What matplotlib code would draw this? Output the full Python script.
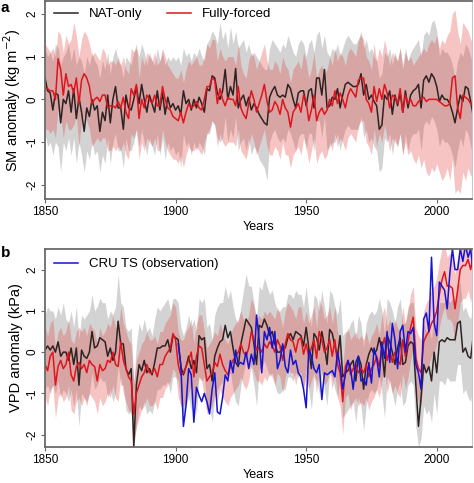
import numpy as np
import matplotlib
matplotlib.use('Agg')
import matplotlib.pyplot as plt

plt.rcParams['font.family'] = ['Liberation Sans', 'DejaVu Sans']
plt.rcParams['axes.unicode_minus'] = False

YEARS = np.arange(1850, 2015)
CRU_YEARS = np.arange(1901, 2015)

# ---- panel a: soil moisture anomaly (kg m-2) ----
sm_nat = [
    0.5, 0.2, 0.15, -0.25, 0.15, 0.1, -0.55, 0.0, -0.1, 0.2,
    -0.3, 0.25, -0.45, 0.05, -0.3, -0.75, -0.2, -0.4, 0.0, -0.25,
    -0.15, -0.75, -0.3, -0.5, 0.1, -0.55, 0.0, 0.3, -0.2, -0.2,
    -0.7, 0.1, -0.2, -0.25, 0.0, 0.3, -0.1, 0.35, 0.0, -0.3,
    0.1, -0.1, -0.3, 0.2, -0.25, 0.15, -0.35, 0.05, -0.2, -0.1,
    -0.25, -0.15, -0.35, 0.2, -0.1, 0.0, -0.25, 0.0, -0.2, 0.05,
    -0.1, -0.3, 0.25, 0.2, 0.55, 0.5, 0.15, 0.0, 0.2, 0.7,
    0.0, 0.3, 0.1, 0.72, -0.2, 0.0, 0.1, -0.15, 0.05, -0.25,
    -0.1, -0.2, -0.35, -0.45, -0.55, -0.6, 0.05, 0.2, 0.3, 0.1,
    0.05, 0.1, 0.05, 0.35, 0.25, 0.0, -0.2, 0.15, 0.2, 0.2,
    -0.15, 0.2, 0.25, -0.2, 0.5, 0.5, 0.1, 0.7, -0.2, -0.15,
    0.05, 0.0, 0.25, -0.2, 0.1, 0.35, 0.4, 0.35, 0.3, 0.3,
    0.35, 0.6, 0.1, 0.35, 0.0, 0.1, -0.05, -0.15, -0.7, -0.6,
    0.1, 0.0, 0.2, -0.35, 0.1, -0.15, 0.15, -0.3, 0.2, -0.2,
    0.1, 0.2, 0.25, 0.35, -0.2, 0.45, 0.55, 0.4, 0.6, 0.5,
    0.3, -0.05, 0.1, 0.0, 0.0, -0.1, -0.3, -0.55, -0.2, 0.1,
    -0.05, 0.3, 0.25, -0.05, -0.4,
]
sm_all = [
    0.25, 0.25, 0.2, 0.2, 0.0, 0.95, 0.7, 0.1, 0.6, 0.3,
    0.35, 0.15, 0.5, -0.1, 0.45, 0.6, 0.5, 0.3, -0.1, 0.0,
    0.05, -0.05, 0.1, 0.1, -0.2, -0.15, -0.15, -0.2, -0.05, -0.2,
    0.05, -0.3, -0.45, 0.25, 0.1, 0.35, -0.45, 0.0, -0.2, 0.1,
    0.0, -0.1, 0.1, -0.15, -0.15, 0.3, 0.0, -0.2, -0.25, -0.4,
    -0.45, -0.5, -0.3, -0.55, -0.3, -0.1, -0.2, -0.15, -0.05, -0.2,
    -0.25, 0.0, 0.3, 0.3, 0.5, 0.45, -0.1, 0.25, 0.0, -0.15,
    0.05, 0.0, 0.0, -0.15, 0.3, -0.2, -0.35, -0.45, -0.1, 0.2,
    0.0, -0.3, -0.1, 0.1, 0.35, -0.05, -0.3, -0.25, -0.05, -0.15,
    -0.35, 0.0, -0.2, -0.3, -0.65, -0.3, -0.2, -0.1, -0.3, 0.1,
    -0.05, -0.5, -0.25, 0.1, -0.5, -0.3, -0.2, -0.35, -0.25, 0.0,
    -0.15, 0.2, -0.1, 0.15, 0.0, -0.2, 0.1, 0.25, 0.15, 0.05,
    0.45, 0.5, 0.5, 0.0, -0.1, -0.3, 0.3, -0.05, 0.25, 0.0,
    0.35, 0.15, -0.2, 0.1, 0.05, -0.1, 0.25, -0.3, 0.1, -0.1,
    0.0, -0.15, -0.15, -0.05, 0.0, 0.05, -0.05, 0.0, 0.0, 0.0,
    0.0, -0.05, -0.1, -0.15, -0.15, -0.1, 0.5, 0.55, -0.2, -0.45,
    0.1, 0.05, 0.0, -0.1, -0.15,
]
sm_nat_hi = [
    1.2, 1.0, 1.1, 0.9, 1.3, 1.2, 0.8, 1.0, 1.1, 1.3,
    0.9, 1.2, 0.8, 1.0, 0.9, 0.6, 1.0, 0.8, 1.1, 0.9,
    0.8, 0.5, 0.9, 0.7, 1.1, 0.6, 1.0, 1.2, 0.9, 0.8,
    0.5, 1.0, 0.9, 0.8, 1.1, 1.2, 1.0, 1.3, 1.1, 0.8,
    1.1, 0.9, 0.8, 1.2, 0.9, 1.1, 0.8, 1.0, 0.9, 1.0,
    0.9, 1.0, 0.8, 1.2, 1.0, 1.1, 0.9, 1.1, 1.0, 1.2,
    1.0, 0.9, 1.3, 1.4, 1.6, 1.5, 1.3, 1.8, 1.4, 1.6,
    1.2, 1.7, 1.3, 1.6, 1.2, 1.3, 1.4, 1.1, 1.3, 1.0,
    1.1, 1.0, 0.9, 0.8, 0.7, 0.7, 1.2, 1.4, 1.3, 1.2,
    1.1, 1.3, 1.2, 1.5, 1.3, 1.1, 1.0, 1.3, 1.4, 1.3,
    1.0, 1.3, 1.4, 1.1, 1.5, 1.6, 1.2, 1.5, 1.1, 1.0,
    1.2, 1.1, 1.3, 1.0, 1.2, 1.4, 1.5, 1.4, 1.3, 1.3,
    1.4, 1.6, 1.2, 1.4, 1.1, 1.2, 1.0, 0.9, 0.5, 0.6,
    1.1, 1.0, 1.2, 0.8, 1.1, 0.9, 1.2, 0.8, 1.2, 0.9,
    1.1, 1.2, 1.3, 1.4, 1.0, 1.5, 1.6, 1.5, 1.8, 1.85,
    1.6, 1.0, 1.2, 1.1, 1.1, 1.0, 0.8, 0.5, 0.9, 1.1,
    1.0, 1.3, 1.2, 1.0, 0.7,
]
sm_nat_lo = [
    -0.8, -1.1, -1.0, -1.3, -1.0, -1.1, -1.7, -1.0, -1.2, -0.9,
    -1.3, -0.9, -1.5, -1.0, -1.3, -1.7, -1.2, -1.4, -1.0, -1.3,
    -1.2, -1.7, -1.3, -1.5, -0.9, -1.5, -1.0, -0.8, -1.2, -1.2,
    -1.6, -0.9, -1.2, -1.2, -1.0, -0.7, -1.1, -0.7, -1.0, -1.3,
    -0.9, -1.1, -1.3, -0.8, -1.3, -0.9, -1.4, -1.0, -1.2, -1.1,
    -1.3, -1.2, -1.6, -0.8, -1.1, -1.0, -1.3, -1.0, -1.2, -1.0,
    -1.1, -1.3, -0.8, -0.8, -0.5, -0.6, -0.9, -1.0, -0.9, -0.4,
    -1.0, -0.7, -0.9, -0.4, -1.2, -1.0, -0.9, -1.2, -0.9, -1.3,
    -1.1, -1.2, -1.4, -1.5, -1.6, -1.9, -1.0, -0.8, -0.7, -0.9,
    -1.0, -0.9, -1.0, -0.7, -0.8, -1.0, -1.2, -0.9, -0.8, -0.8,
    -1.2, -0.8, -0.8, -1.2, -0.5, -0.5, -0.9, -0.4, -1.2, -1.1,
    -1.0, -1.0, -0.8, -1.2, -0.9, -0.7, -0.6, -0.7, -0.7, -0.7,
    -0.7, -0.4, -0.9, -0.7, -1.0, -0.9, -1.1, -1.2, -1.7, -1.6,
    -0.9, -1.0, -0.8, -1.3, -0.9, -1.1, -0.8, -1.3, -0.8, -1.2,
    -0.9, -0.8, -0.8, -0.7, -1.2, -0.6, -0.5, -0.6, -0.4, -0.5,
    -0.7, -1.1, -0.9, -1.0, -1.0, -1.1, -1.3, -1.6, -1.2, -0.9,
    -1.1, -0.7, -0.8, -1.1, -1.4,
]
sm_all_hi = [
    1.3, 1.2, 1.1, 1.2, 1.0, 1.6, 1.5, 1.1, 1.5, 1.3,
    1.4, 1.8, 1.5, 1.0, 1.4, 1.6, 1.5, 1.3, 1.0, 1.1,
    1.0, 0.9, 1.2, 1.1, 0.8, 0.9, 0.9, 0.8, 1.0, 0.8,
    1.0, 0.7, 0.6, 1.2, 1.1, 1.3, 0.5, 1.0, 0.8, 1.1,
    1.0, 0.9, 1.1, 0.8, 0.9, 1.2, 1.0, 0.8, 0.7, 0.6,
    0.5, 0.5, 0.7, 0.4, 0.7, 0.9, 0.8, 0.9, 1.0, 0.8,
    0.8, 1.0, 1.3, 1.2, 1.4, 1.4, 0.9, 1.2, 1.0, 0.9,
    1.0, 1.0, 1.0, 0.8, 1.3, 0.8, 0.6, 0.5, 0.9, 1.1,
    1.0, 0.7, 0.9, 1.1, 1.3, 0.9, 0.7, 0.7, 0.9, 0.8,
    0.6, 1.0, 0.8, 0.7, 0.4, 0.7, 0.8, 0.9, 0.7, 1.1,
    0.9, 0.5, 0.7, 1.1, 0.5, 0.7, 0.8, 0.6, 0.7, 1.0,
    0.8, 1.2, 0.9, 1.1, 1.0, 0.8, 1.1, 1.2, 1.1, 1.0,
    1.4, 1.5, 1.4, 1.0, 0.9, 0.7, 1.3, 0.9, 1.2, 1.0,
    1.4, 1.1, 0.8, 1.1, 1.0, 0.9, 1.2, 0.7, 1.1, 0.9,
    1.0, 0.8, 0.9, 1.0, 1.1, 1.2, 1.1, 1.3, 1.4, 1.3,
    1.5, 1.2, 1.4, 1.3, 1.5, 1.6, 2.0, 2.1, 1.6, 1.3,
    1.8, 1.7, 1.6, 1.4, 1.3,
]
sm_all_lo = [
    -0.7, -0.7, -0.8, -0.7, -0.9, -0.2, -0.4, -0.9, -0.5, -0.7,
    -0.7, -0.6, -0.4, -1.1, -0.5, -0.4, -0.5, -0.7, -1.1, -1.0,
    -0.9, -1.0, -0.9, -0.9, -1.2, -1.2, -1.1, -1.2, -1.1, -1.2,
    -1.0, -1.3, -1.4, -0.8, -0.9, -0.7, -1.4, -1.0, -1.2, -0.9,
    -1.0, -1.1, -0.9, -1.2, -1.2, -0.7, -1.0, -1.2, -1.3, -1.4,
    -1.4, -1.5, -1.3, -1.6, -1.3, -1.1, -1.2, -1.2, -1.1, -1.2,
    -1.3, -1.0, -0.8, -0.7, -0.5, -0.6, -1.1, -0.8, -1.0, -1.1,
    -1.0, -1.0, -1.0, -1.1, -0.7, -1.2, -1.3, -1.4, -1.1, -0.8,
    -1.0, -1.3, -1.1, -0.9, -0.7, -1.1, -1.3, -1.3, -1.1, -1.2,
    -1.4, -1.0, -1.3, -1.3, -1.6, -1.3, -1.2, -1.1, -1.3, -0.9,
    -1.1, -1.5, -1.2, -0.9, -1.5, -1.3, -1.2, -1.4, -1.3, -1.0,
    -1.2, -0.8, -1.1, -0.9, -1.0, -1.2, -0.9, -0.8, -0.9, -1.0,
    -0.6, -0.5, -0.5, -1.0, -1.1, -1.3, -0.7, -1.1, -0.8, -1.0,
    -0.6, -0.9, -1.2, -0.9, -1.0, -1.1, -0.8, -1.3, -1.0, -1.3,
    -1.2, -1.4, -1.5, -1.3, -1.6, -1.4, -1.7, -1.8, -1.6, -1.7,
    -1.5, -1.7, -1.9, -1.8, -1.6, -1.9, -1.4, -2.2, -2.1, -2.2,
    -1.7, -1.9, -1.6, -1.8, -1.7,
]

# ---- panel b: vapour pressure deficit anomaly (kPa) ----
vpd_nat = [
    0.05, 0.15, 0.05, 0.15, 0.0, 0.25, -0.1, 0.0, 0.0, -0.2,
    0.1, -0.3, 0.1, -0.8, 0.05, -0.1, -0.15, 0.0, 0.5, 0.1,
    0.15, 0.35, 0.3, 0.25, -0.1, 0.1, -0.2, 0.0, 0.75, 0.2,
    0.2, -0.4, -0.55, -0.4, -2.3, -0.8, -0.3, -0.45, -0.2, -0.5,
    -0.4, -0.55, -0.25, 0.1, 0.1, 0.15, 0.15, 0.3, 0.0, 0.4,
    0.35, 0.3, -0.35, -0.55, -0.35, -0.1, -0.4, -0.2, -0.5, 0.4,
    0.3, 0.35, -0.4, -0.3, -0.7, -0.1, 0.1, 0.25, 0.3, 0.65,
    0.35, 0.5, 0.1, -0.25, -0.35, 0.2, 0.5, 0.8, 0.7, 0.6,
    0.2, -0.3, 0.65, 0.6, 0.8, 0.65, 0.4, 0.5, 0.2, 0.0,
    0.0, 0.15, 0.1, 0.35, 0.45, 0.3, 0.5, 0.45, 0.4, 0.15,
    0.6, 0.1, -0.4, 0.45, 0.35, 0.05, 0.5, 0.15, -0.3, 0.55,
    0.45, 0.15, -0.1, 0.4, -0.6, -0.5, -0.45, -0.3, -0.2, -0.7,
    -0.1, -0.3, -0.9, -0.3, -0.05, 0.1, -0.05, 0.05, 0.35, 0.05,
    -0.6, 0.4, 0.25, 0.0, -0.3, 0.1, 0.35, -0.3, -0.25, 0.15,
    0.25, 0.2, -0.8, -1.8, -1.1, -0.3, -0.5, -0.35, -0.7, 0.0,
    -0.5, 0.25, 0.3, 0.25, 0.35, 0.3, 0.3, 0.3, 0.7, 0.75,
    0.0, 0.1, -0.1, -0.15, 0.4,
]
vpd_all = [
    -0.3, -0.45, -0.1, 0.0, -0.8, -0.35, -0.2, -0.4, -0.3, 0.0,
    -0.55, -0.7, -0.35, -0.25, -0.4, -0.3, -0.5, -0.2, -0.3, -0.35,
    -0.7, -0.3, -0.45, -0.4, -0.2, -0.25, 0.0, -0.3, -0.35, 0.25,
    -0.2, -0.4, -0.6, -0.7, -1.5, -1.0, -0.8, -0.6, -0.5, -0.3,
    -0.5, -0.5, -0.4, -0.6, -0.3, -0.3, -0.1, 0.0, 0.1, 0.45,
    0.3, -0.3, -0.55, -0.5, -0.35, -0.2, 0.0, -0.6, -0.1, 0.15,
    0.1, -0.3, -0.7, -0.6, -0.5, -0.25, -0.35, -0.05, -0.3, -0.45,
    -0.55, -0.35, -0.2, -0.1, 0.0, 0.2, 0.0, -0.1, 0.1, 0.5,
    0.3, 0.05, 0.1, 0.0, 0.2, 0.1, 0.25, 0.15, 0.0, 0.3,
    0.15, -0.2, 0.2, 0.45, 0.3, 0.25, 0.0, 0.3, 0.35, -0.05,
    0.2, -0.1, 0.1, 0.3, -0.15, 0.5, 0.3, 0.0, 0.1, 0.3,
    -0.1, 0.3, -0.3, -0.5, -1.2, -0.35, -0.2, -0.55, -0.4, -0.3,
    -0.5, -0.4, -0.5, -0.3, -0.6, -0.4, -0.3, -0.1, -0.35, 0.1,
    0.35, -0.2, 0.05, -0.25, 0.0, -0.2, -0.3, 0.3, -0.1, 0.25,
    0.6, 0.85, -0.15, -0.4, -0.5, 0.25, 0.4, 0.5, 0.7, 0.8,
    1.0, 1.4, 1.75, 1.95, 1.6, 1.6, 1.55, 1.05, 1.5, 2.0,
    2.1, 2.1, 2.25, 2.0, 2.35,
]
vpd_cru = [
    0.2, -0.3, -1.8, -1.3, -0.4, -0.55, -1.7, -0.85, -1.05,
    -1.2, -1.0, -1.2, -1.5, -0.9, -0.5, -1.45, -1.5, -1.1, -0.55,
    -0.7, -0.2, -0.5, 0.05, -0.3, -0.25, -0.3, 0.0, -0.4, -0.05,
    -0.3, 0.9, 0.3, -0.5, 0.5, 0.3, 0.6, 0.1, 0.5, -0.4,
    -0.2, 0.2, -0.35, -0.5, 0.05, -0.3, -0.2, -0.5, -0.6, -0.9,
    -1.35, 0.05, -0.1, -0.4, -0.5, -0.3, -1.15, -0.5, -0.55, -0.5,
    -0.45, -0.6, 0.0, -0.35, -0.9, -0.55, -0.2, -0.4, -0.9, -0.25,
    -0.1, -0.7, -0.65, -0.8, -0.25, -0.75, 0.1, -0.15, -0.6, 0.25,
    -0.15, 0.5, -0.25, 0.7, 0.3, -0.4, 0.5, 0.65, 0.0, 0.5,
    0.45, 0.6, -0.3, -0.5, -0.9, 0.8, 0.95, 0.5, 2.3, 0.7,
    0.4, 1.7, 1.6, 1.5, 1.05, 1.9, 2.5, 2.0, 2.0, 2.5,
    2.2, 2.6, 2.3, 2.5, 1.9,
]
vpd_nat_hi = [
    0.9, 1.1, 1.0, 1.0, 0.8, 1.1, 0.9, 1.2, 0.8, 0.7,
    1.0, 0.6, 1.1, 0.3, 0.9, 0.8, 0.9, 1.0, 1.4, 1.0,
    1.1, 1.3, 1.2, 1.2, 0.8, 1.0, 0.9, 1.1, 1.9, 1.2,
    1.1, 0.6, 0.5, 0.6, -0.8, 0.2, 0.7, 0.5, 0.8, 0.5,
    0.6, 0.4, 0.8, 1.1, 1.0, 1.1, 1.2, 1.3, 1.0, 1.3,
    1.3, 1.2, 0.6, 0.4, 0.6, 0.9, 0.6, 0.8, 0.5, 1.3,
    1.2, 1.3, 0.6, 0.7, 0.3, 0.9, 1.1, 1.2, 1.2, 1.6,
    1.3, 1.5, 1.1, 0.8, 0.7, 1.1, 1.5, 1.9, 1.6, 1.6,
    1.2, 0.8, 1.6, 1.5, 1.8, 1.6, 1.4, 1.5, 1.2, 1.0,
    1.0, 1.1, 1.1, 1.4, 1.4, 1.3, 1.5, 1.4, 1.4, 1.1,
    1.6, 1.0, 0.6, 1.4, 1.3, 1.0, 1.5, 1.1, 0.7, 1.5,
    1.4, 1.1, 0.9, 1.3, 0.4, 0.5, 0.5, 0.7, 0.8, 0.3,
    0.9, 0.7, 0.1, 0.7, 0.9, 1.0, 0.9, 1.0, 1.3, 1.0,
    0.4, 1.3, 1.2, 1.0, 0.7, 1.1, 1.3, 0.7, 0.7, 1.1,
    1.2, 1.2, 0.2, -0.8, -0.2, 0.7, 0.5, 0.6, 0.3, 1.0,
    0.5, 1.2, 1.2, 1.2, 1.3, 1.2, 1.3, 1.2, 1.6, 1.7,
    1.0, 1.1, 0.9, 0.8, 1.3,
]
vpd_nat_lo = [
    -0.9, -0.8, -1.0, -0.8, -1.0, -0.7, -1.1, -0.9, -1.0, -1.2,
    -0.9, -1.3, -0.9, -1.8, -1.0, -1.1, -1.2, -1.0, -0.5, -0.9,
    -0.8, -0.6, -0.7, -0.7, -1.1, -0.9, -1.2, -1.0, -0.3, -0.8,
    -0.8, -1.4, -1.5, -1.4, -2.3, -1.8, -1.3, -1.4, -1.2, -1.5,
    -1.4, -1.5, -1.2, -0.9, -0.9, -0.8, -0.8, -0.7, -1.0, -0.6,
    -0.6, -0.7, -1.3, -1.5, -1.3, -1.1, -1.4, -1.2, -1.5, -0.6,
    -0.7, -0.6, -1.4, -1.3, -1.7, -1.1, -0.9, -0.8, -0.7, -0.4,
    -0.6, -0.5, -0.9, -1.2, -1.3, -0.8, -0.5, -0.2, -0.3, -0.4,
    -0.8, -1.3, -0.4, -0.4, -0.2, -0.4, -0.6, -0.5, -0.8, -1.0,
    -1.0, -0.9, -0.9, -0.6, -0.6, -0.7, -0.5, -0.6, -0.6, -0.9,
    -0.4, -0.9, -1.4, -0.6, -0.7, -1.0, -0.5, -0.9, -1.3, -0.5,
    -0.6, -0.9, -1.1, -0.6, -1.6, -1.5, -1.4, -1.3, -1.2, -1.7,
    -1.1, -1.3, -1.9, -1.3, -1.0, -0.9, -1.0, -0.9, -0.6, -1.0,
    -1.6, -0.6, -0.7, -1.0, -1.3, -0.9, -0.7, -1.3, -1.2, -0.8,
    -0.7, -0.8, -1.8, -2.3, -2.1, -1.3, -1.5, -1.4, -1.7, -1.0,
    -1.5, -0.7, -0.7, -0.8, -0.6, -0.7, -0.7, -0.7, -0.3, -0.3,
    -1.0, -0.9, -1.1, -1.2, -0.7,
]
vpd_all_hi = [
    0.6, 0.4, 0.7, 0.8, 0.1, 0.5, 0.6, 0.4, 0.5, 0.8,
    0.3, 0.2, 0.5, 0.6, 0.5, 0.6, 0.4, 0.7, 0.6, 0.5,
    0.2, 0.6, 0.4, 0.5, 0.7, 0.6, 0.9, 0.6, 0.5, 1.1,
    0.7, 0.5, 0.3, 0.2, -0.7, -0.2, 0.0, 0.2, 0.3, 0.5,
    0.3, 0.3, 0.4, 0.2, 0.5, 0.5, 0.7, 0.8, 0.9, 1.2,
    1.1, 0.5, 0.3, 0.3, 0.5, 0.6, 0.8, 0.2, 0.7, 0.9,
    0.9, 0.5, 0.1, 0.2, 0.3, 0.5, 0.4, 0.7, 0.5, 0.3,
    0.2, 0.4, 0.6, 0.7, 0.8, 1.0, 0.8, 0.7, 0.9, 1.3,
    1.1, 0.8, 0.9, 0.8, 1.0, 0.9, 1.0, 0.9, 0.8, 1.1,
    0.9, 0.6, 1.0, 1.2, 1.1, 1.0, 0.8, 1.1, 1.1, 0.7,
    1.0, 0.7, 0.9, 1.1, 0.6, 1.3, 1.1, 0.8, 0.9, 1.1,
    0.7, 1.1, 0.5, 0.3, -0.4, 0.4, 0.6, 0.3, 0.4, 0.5,
    0.3, 0.4, 0.3, 0.5, 0.2, 0.4, 0.5, 0.7, 0.4, 0.9,
    1.1, 0.6, 0.8, 0.5, 0.8, 0.6, 0.5, 1.1, 0.7, 1.0,
    1.4, 1.6, 0.6, 0.4, 0.3, 1.0, 1.2, 1.3, 1.5, 1.6,
    1.8, 2.2, 2.5, 2.6, 2.3, 2.4, 2.3, 1.9, 2.3, 2.6,
    2.7, 2.8, 2.9, 2.7, 3.0,
]
vpd_all_lo = [
    -1.1, -1.3, -0.9, -0.8, -1.6, -1.1, -1.0, -1.2, -1.1, -0.8,
    -1.4, -1.5, -1.2, -1.1, -1.3, -1.1, -1.3, -1.0, -1.1, -1.2,
    -1.5, -1.1, -1.3, -1.2, -1.0, -1.1, -0.8, -1.1, -1.2, -0.6,
    -1.0, -1.2, -1.4, -1.5, -2.2, -1.8, -1.6, -1.4, -1.3, -1.1,
    -1.3, -1.3, -1.2, -1.4, -1.1, -1.1, -0.9, -0.8, -0.7, -0.4,
    -0.5, -1.1, -1.3, -1.3, -1.2, -1.0, -0.8, -1.4, -0.9, -0.6,
    -0.7, -1.1, -1.5, -1.4, -1.3, -1.0, -1.2, -0.9, -1.1, -1.2,
    -1.3, -1.1, -1.0, -0.9, -0.8, -0.6, -0.8, -0.9, -0.7, -0.3,
    -0.5, -0.7, -0.7, -0.8, -0.6, -0.7, -0.5, -0.6, -0.8, -0.5,
    -0.6, -1.0, -0.6, -0.4, -0.5, -0.5, -0.8, -0.5, -0.5, -0.9,
    -0.6, -0.9, -0.7, -0.5, -1.0, -0.3, -0.5, -0.8, -0.7, -0.5,
    -0.9, -0.5, -1.1, -1.3, -2.0, -1.1, -1.0, -1.4, -1.2, -1.1,
    -1.3, -1.2, -1.3, -1.1, -1.4, -1.2, -1.1, -0.9, -1.1, -0.7,
    -0.4, -1.0, -0.7, -1.0, -0.8, -1.0, -1.1, -0.5, -0.9, -0.6,
    -0.2, 0.1, -0.9, -1.2, -1.3, -0.5, -0.4, -0.3, -0.1, 0.0,
    0.2, 0.6, 0.9, 1.1, 0.8, 0.8, 0.7, 0.2, 0.7, 1.2,
    1.3, 1.3, 1.5, 1.2, 1.6,
]

GRAY_BAND = '#d3d3d3'
PINK_BAND = '#e63c3c'
NAT_COL = '#2e2222'
ALL_COL = '#e0141c'
CRU_COL = '#1414d2'
SPINE_COL = '#6a6a6a'
FS = 8.5

fig = plt.figure(figsize=(4.74, 4.83), dpi=100)
ax_a = fig.add_axes([45 / 474, 1 - 199 / 483, 427 / 474, 198 / 483])
ax_b = fig.add_axes([45 / 474, 1 - 447 / 483, 427 / 474, 198 / 483])


def style_axis(ax, ylim, ylabel):
    ax.set_xlim(1850, 2013.5)
    ax.set_ylim(*ylim)
    ax.set_xticks([1850, 1900, 1950, 2000])
    ax.set_yticks([-2, -1, 0, 1, 2])
    ax.set_yticklabels(['-2', '-1', '0', '1', '2'], rotation=90, va='center')
    ax.tick_params(direction='out', length=3, width=0.8, color=SPINE_COL,
                   labelsize=FS, pad=2)
    for s in ax.spines.values():
        s.set_color(SPINE_COL)
        s.set_linewidth(1.3)
    ax.spines['right'].set_color('#c8c8c8')
    ax.spines['right'].set_linewidth(0.8)
    ax.set_xlabel('Years', fontsize=9, labelpad=2)
    ax.set_ylabel(ylabel, fontsize=10.5, labelpad=2)


# panel a
ax_a.fill_between(YEARS, sm_nat_lo, sm_nat_hi, color=GRAY_BAND, lw=0)
ax_a.fill_between(YEARS, sm_all_lo, sm_all_hi, color=PINK_BAND, alpha=0.3, lw=0)
ax_a.plot(YEARS, sm_nat, color=NAT_COL, lw=1.1, label='NAT-only')
ax_a.plot(YEARS, sm_all, color=ALL_COL, lw=1.1, label='Fully-forced')
style_axis(ax_a, (-2.33, 2.3), 'SM anomaly (kg m$^{-2}$)')
ax_a.legend(loc='upper left', ncol=2, frameon=False, fontsize=9.5,
            handlelength=1.8, columnspacing=1.9, borderaxespad=0.3,
            bbox_to_anchor=(0.0, 1.01))

# panel b
ax_b.fill_between(YEARS, vpd_nat_lo, vpd_nat_hi, color=GRAY_BAND, lw=0)
ax_b.fill_between(YEARS, vpd_all_lo, vpd_all_hi, color=PINK_BAND, alpha=0.3, lw=0)
ax_b.plot(YEARS, vpd_nat, color=NAT_COL, lw=1.1)
ax_b.plot(YEARS, vpd_all, color=ALL_COL, lw=1.1)
ax_b.plot(CRU_YEARS, vpd_cru, color=CRU_COL, lw=1.1, label='CRU TS (observation)')
style_axis(ax_b, (-2.3, 2.5), 'VPD anomaly (kPa)')
ax_b.legend(loc='upper left', frameon=False, fontsize=9.5,
            handlelength=1.8, borderaxespad=0.3, bbox_to_anchor=(0.0, 1.0))

fig.text(0.002, 1 - 8 / 483, 'a', fontsize=11, fontweight='bold', va='center')
fig.text(0.002, 1 - 253 / 483, 'b', fontsize=11, fontweight='bold', va='center')

fig.savefig('out.png', dpi=100)
